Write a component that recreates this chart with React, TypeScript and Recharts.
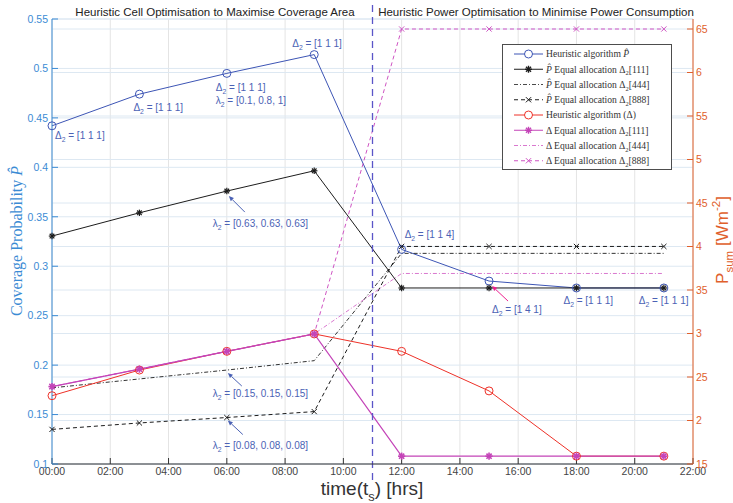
import React from 'react';
import {
  LineChart,
  Line,
  XAxis,
  YAxis,
  CartesianGrid,
  ReferenceLine,
  ReferenceDot,
  Legend,
} from 'recharts';

// Sample times (hours of day)
const hours = [0, 3, 6, 9, 12, 15, 18, 21];

// Coverage probability series (left axis)
const heuristicP = [0.442, 0.474, 0.495, 0.514, 0.317, 0.285, 0.278, 0.278];
const equalP111 = [0.3305, 0.354, 0.376, 0.3965, 0.278, 0.278, 0.278, 0.278];
const equalP444 = [0.177, 0.186, 0.195, 0.2045, 0.313, 0.313, 0.313, 0.313];
const equalP888 = [0.135, 0.1415, 0.147, 0.153, 0.32, 0.32, 0.32, 0.32];

// Power consumption series (right axis)
const heuristicDelta = [22.85, 25.8, 27.95, 29.95, 27.95, 23.4, 15.9, 15.9];
const equalD111 = [23.9, 25.9, 27.95, 29.95, 15.9, 15.9, 15.9, 15.9];
const equalD444 = [23.9, 25.9, 27.95, 29.95, 36.9, 36.9, 36.9, 36.9];
const equalD888 = [23.9, 25.9, 27.95, 29.95, 65, 65, 65, 65];

// Axis ticks
const timeTicks = [0, 2, 4, 6, 8, 10, 12, 14, 16, 18, 20, 22];
const coverageTicks = [0.1, 0.15, 0.2, 0.25, 0.3, 0.35, 0.4, 0.45, 0.5, 0.55];
const powerTicks = [15, 20, 25, 30, 35, 40, 45, 50, 55, 60, 65];
const powerTickLabels = ['15', '2', '25', '3', '35', '4', '45', '5', '55', '6', '65'];

const phaseSplit = 11;

const data = hours.map((t, i) => ({
  t,
  hp: heuristicP[i],
  p111: equalP111[i],
  p444: equalP444[i],
  p888: equalP888[i],
  hd: heuristicDelta[i],
  d111: equalD111[i],
  d444: equalD444[i],
  d888: equalD888[i],
}));

const C = {
  blue: '#3d55b5',
  black: '#1c1c1c',
  red: '#ee3128',
  magenta: '#c444b8',
  magentaLight: '#cf55c3',
  note: '#4b62b5',
  leftAxis: '#3b8bd4',
  rightAxis: '#e0602c',
  grid: '#dde8f2',
  vgrid: '#e4e4e4',
};

type Piece = { t: string; sub?: boolean; sup?: boolean; italic?: boolean };

function tspans(pieces: Piece[], size: number) {
  let shift = 0;
  return pieces.map((p, i) => {
    const target = p.sub ? size * 0.3 : p.sup ? -size * 0.45 : 0;
    const dy = target - shift;
    shift = target;
    return (
      <tspan
        key={i}
        dy={dy}
        fontSize={p.sub || p.sup ? size * 0.68 : size}
        fontStyle={p.italic ? 'italic' : undefined}
      >
        {p.t}
      </tspan>
    );
  });
}

const delta = (rest: string): Piece[] => [{ t: 'Δ' }, { t: '2', sub: true }, { t: rest }];
const lambda = (rest: string): Piece[] => [{ t: 'λ' }, { t: '2', sub: true }, { t: rest }];

// Marker shapes
const openCircle = (color: string) => (props: any) => {
  const { cx, cy, index } = props;
  if (cx == null || cy == null) return <g key={index} />;
  return <circle key={index} cx={cx} cy={cy} r={4} fill="none" stroke={color} strokeWidth={1} />;
};

const starAt = (cx: number, cy: number, color: string, s: number, w: number) => {
  const d = s * 0.72;
  return (
    <g stroke={color} strokeWidth={w}>
      <line x1={cx - s} y1={cy} x2={cx + s} y2={cy} />
      <line x1={cx} y1={cy - s} x2={cx} y2={cy + s} />
      <line x1={cx - d} y1={cy - d} x2={cx + d} y2={cy + d} />
      <line x1={cx - d} y1={cy + d} x2={cx + d} y2={cy - d} />
    </g>
  );
};

const star = (color: string, s: number, w: number) => (props: any) => {
  const { cx, cy, index } = props;
  if (cx == null || cy == null) return <g key={index} />;
  return <g key={index}>{starAt(cx, cy, color, s, w)}</g>;
};

const crossAt = (cx: number, cy: number, color: string, s: number) => (
  <g stroke={color} strokeWidth={1}>
    <line x1={cx - s} y1={cy - s} x2={cx + s} y2={cy + s} />
    <line x1={cx - s} y1={cy + s} x2={cx + s} y2={cy - s} />
  </g>
);

const cross = (color: string) => (props: any) => {
  const { cx, cy, index } = props;
  if (cx == null || cy == null) return <g key={index} />;
  return <g key={index}>{crossAt(cx, cy, color, 2.6)}</g>;
};

// Text notes anchored to data points (dx/dy are pixel offsets from the point)
type Note = { x: number; y: number; dx: number; dy: number; lines: Piece[][] };
const notes: Note[] = [
  { x: 0, y: heuristicP[0], dx: 3, dy: 13, lines: [delta(' = [1 1 1]')] },
  { x: 3, y: heuristicP[1], dx: -6, dy: 17, lines: [delta(' = [1 1 1]')] },
  { x: 6, y: heuristicP[2], dx: -11, dy: 18, lines: [delta(' = [1 1 1]'), lambda(' = [0.1, 0.8, 1]')] },
  { x: 9, y: heuristicP[3], dx: -22, dy: -8, lines: [delta(' = [1 1 1]')] },
  { x: 6, y: equalP111[2], dx: -14, dy: 36, lines: [lambda(' = [0.63, 0.63, 0.63]')] },
  { x: 6, y: equalP444[2], dx: -14, dy: 27, lines: [lambda(' = [0.15, 0.15, 0.15]')] },
  { x: 6, y: equalP888[2], dx: -14, dy: 31, lines: [lambda(' = [0.08, 0.08, 0.08]')] },
  { x: 12, y: heuristicP[4], dx: 3, dy: -11, lines: [delta(' = [1 1 4]')] },
  { x: 15, y: heuristicP[5], dx: 3, dy: 32, lines: [delta(' = [1 4 1]')] },
  { x: 18, y: heuristicP[6], dx: -13, dy: 16, lines: [delta(' = [1 1 1]')] },
  { x: 21, y: heuristicP[7], dx: -25, dy: 16, lines: [delta(' = [1 1 1]')] },
];

// Arrows pointing at data points (tail/head offsets in pixels from the point)
type Arrow = { x: number; y: number; tail: [number, number]; head: [number, number]; color: string };
const arrows: Arrow[] = [
  { x: 6, y: equalP111[2], tail: [18, 21], head: [2, 5], color: C.note },
  { x: 6, y: equalP444[2], tail: [15, 16], head: [1, 3], color: C.note },
  { x: 6, y: equalP888[2], tail: [16, 17], head: [1, 3], color: C.note },
  { x: 15, y: heuristicP[5], tail: [19, 20], head: [3, 5], color: '#ee1f8f' },
];

const noteShape = (n: Note) => (props: any) => {
  const { cx, cy } = props;
  if (cx == null || cy == null) return <g />;
  return (
    <g>
      {n.lines.map((ln, i) => (
        <text
          key={i}
          x={cx + n.dx}
          y={cy + n.dy + i * 13}
          fill={C.note}
          fontSize={10}
          fontFamily="'Liberation Sans', Arial, sans-serif"
        >
          {tspans(ln, 10)}
        </text>
      ))}
    </g>
  );
};

const arrowShape = (a: Arrow) => (props: any) => {
  const { cx, cy } = props;
  if (cx == null || cy == null) return <g />;
  const x1 = cx + a.tail[0];
  const y1 = cy + a.tail[1];
  const x2 = cx + a.head[0];
  const y2 = cy + a.head[1];
  const ang = Math.atan2(y2 - y1, x2 - x1);
  const L = 5;
  const W = 2.2;
  const bx = x2 - L * Math.cos(ang);
  const by = y2 - L * Math.sin(ang);
  const px = -Math.sin(ang) * W;
  const py = Math.cos(ang) * W;
  return (
    <g>
      <line x1={x1} y1={y1} x2={bx} y2={by} stroke={a.color} strokeWidth={1} />
      <polygon points={`${x2},${y2} ${bx + px},${by + py} ${bx - px},${by - py}`} fill={a.color} />
    </g>
  );
};

// Legend
type LegendItem = { pieces: Piece[]; color: string; dash?: string; marker?: 'circle' | 'star' | 'cross'; width?: number };
const Phat: Piece = { t: 'P\u0302', italic: true };
const legendItems: LegendItem[] = [
  { pieces: [{ t: 'Heuristic algorithm ' }, Phat], color: C.blue, marker: 'circle' },
  { pieces: [Phat, { t: ' Equal allocation Δ' }, { t: '2', sub: true }, { t: '[111]' }], color: C.black, marker: 'star' },
  { pieces: [Phat, { t: ' Equal allocation Δ' }, { t: '2', sub: true }, { t: '[444]' }], color: C.black, dash: '4 2 1 2', width: 0.8 },
  { pieces: [Phat, { t: ' Equal allocation Δ' }, { t: '2', sub: true }, { t: '[888]' }], color: C.black, dash: '4 3', marker: 'cross' },
  { pieces: [{ t: 'Heuristic algorithm (Δ)' }], color: C.red, marker: 'circle' },
  { pieces: [{ t: 'Δ Equal allocation Δ' }, { t: '2', sub: true }, { t: '[111]' }], color: C.magenta, marker: 'star' },
  { pieces: [{ t: 'Δ Equal allocation Δ' }, { t: '2', sub: true }, { t: '[444]' }], color: C.magentaLight, dash: '4 2 1 2', width: 0.8 },
  { pieces: [{ t: 'Δ Equal allocation Δ' }, { t: '2', sub: true }, { t: '[888]' }], color: C.magentaLight, dash: '4 3', marker: 'cross' },
];

const LegendBox = () => {
  const w = 170;
  const h = 126;
  return (
    <svg width={w} height={h} style={{ display: 'block' }}>
      <rect x={0.5} y={0.5} width={w - 1} height={h - 1} fill="#fff" stroke="#4d4d4d" strokeWidth={1} />
      {legendItems.map((it, i) => {
        const y = 10 + i * 15.25;
        const mx = 26.5;
        return (
          <g key={i}>
            <line x1={12} y1={y} x2={41} y2={y} stroke={it.color} strokeWidth={it.width ?? 1} strokeDasharray={it.dash} />
            {it.marker === 'circle' && <circle cx={mx} cy={y} r={4} fill="#fff" stroke={it.color} />}
            {it.marker === 'star' && starAt(mx, y, it.color, 3.5, 1.4)}
            {it.marker === 'cross' && <g>{crossAt(mx, y, it.color, 2.6)}</g>}
            <text
              x={44}
              y={y + 3.3}
              fontSize={9.6}
              fill="#333"
              fontFamily="'Liberation Serif', 'DejaVu Serif', serif"
            >
              {tspans(it.pieces, 9.6)}
            </text>
          </g>
        );
      })}
    </svg>
  );
};

const sans = "'Liberation Sans', Arial, sans-serif";

const LeftLabel = () => (
  <text
    x={22}
    y={241}
    transform="rotate(-90, 22, 241)"
    textAnchor="middle"
    fill={C.leftAxis}
    fontSize={16}
    fontFamily="'Liberation Serif', 'DejaVu Serif', serif"
  >
    <tspan>Coverage Probability </tspan>
    <tspan fontStyle="italic">{'P\u0302'}</tspan>
  </text>
);

const RightLabel = () => (
  <text
    x={728}
    y={240}
    transform="rotate(-90, 728, 240)"
    textAnchor="middle"
    fill={C.rightAxis}
    fontSize={17}
    fontFamily={sans}
  >
    {tspans([{ t: 'P' }, { t: 'sum', sub: true }, { t: ' [Wm' }, { t: '-2', sup: true }, { t: ']' }], 17)}
  </text>
);

const BottomLabel = () => (
  <text x={372} y={495} textAnchor="middle" fill="#333" fontSize={19} fontFamily={sans}>
    {tspans([{ t: 'time(t' }, { t: 's', sub: true }, { t: ') [hrs]' }], 19)}
  </text>
);

const fmtTime = (h: number) => `${String(h).padStart(2, '0')}:00`;
const fmtCoverage = (v: number) => String(Number(v.toFixed(2)));
const fmtPower = (v: number) => {
  const i = powerTicks.indexOf(v);
  return i >= 0 ? powerTickLabels[i] : String(v);
};

const titleStyle: React.CSSProperties = {
  position: 'absolute',
  top: 4,
  width: 400,
  textAlign: 'center',
  fontFamily: sans,
  fontSize: 11.5,
  lineHeight: '16px',
  color: '#222',
  whiteSpace: 'nowrap',
  zIndex: 2,
};

export default function App() {
  return (
    <div style={{ position: 'absolute', left: 0, top: 0, width: 733, height: 503, background: '#fff' }}>
      <LineChart width={733} height={503} data={data} margin={{ top: 19, right: 0, bottom: 0, left: 0 }}>
        <CartesianGrid xAxisId={0} yAxisId="left" horizontal={false} vertical stroke={C.vgrid} />
        <CartesianGrid xAxisId={0} yAxisId="left" horizontal vertical={false} stroke={C.grid} />
        <CartesianGrid xAxisId={0} yAxisId="right" horizontal vertical={false} stroke={C.grid} />
        <XAxis
          xAxisId={0}
          dataKey="t"
          type="number"
          domain={[0, 22]}
          ticks={timeTicks}
          interval={0}
          tickFormatter={fmtTime}
          height={39}
          tickSize={-6}
          tickMargin={10}
          stroke="#333"
          tick={{ fill: '#444', fontSize: 10.5, fontFamily: sans }}
          label={{ content: () => <BottomLabel /> }}
        />
        <XAxis
          xAxisId="top"
          orientation="top"
          type="number"
          domain={[0, 22]}
          ticks={timeTicks}
          interval={0}
          height={0}
          tickSize={-6}
          stroke="#333"
          tick={() => <g />}
        />
        <YAxis
          yAxisId="left"
          orientation="left"
          type="number"
          domain={[0.1, 0.55]}
          ticks={coverageTicks}
          interval={0}
          width={52}
          tickSize={-6}
          tickMargin={10}
          tickFormatter={fmtCoverage}
          stroke={C.leftAxis}
          tick={{ fill: C.leftAxis, fontSize: 10.5, fontFamily: sans }}
          label={{ content: () => <LeftLabel /> }}
        />
        <YAxis
          yAxisId="right"
          orientation="right"
          type="number"
          domain={[15, 66.15]}
          ticks={powerTicks}
          interval={0}
          width={40}
          tickSize={-6}
          tickMargin={9}
          tickFormatter={fmtPower}
          stroke={C.rightAxis}
          tick={{ fill: C.rightAxis, fontSize: 10.5, fontFamily: sans }}
          label={{ content: () => <RightLabel /> }}
        />

        <Line yAxisId="left" dataKey="hp" stroke={C.blue} strokeWidth={1} dot={openCircle(C.blue)} isAnimationActive={false} />
        <Line yAxisId="left" dataKey="p111" stroke={C.black} strokeWidth={1} dot={star(C.black, 3.2, 1.2)} isAnimationActive={false} />
        <Line yAxisId="left" dataKey="p444" stroke={C.black} strokeWidth={0.9} strokeDasharray="4 2 1 2" dot={false} isAnimationActive={false} />
        <Line yAxisId="left" dataKey="p888" stroke={C.black} strokeWidth={1} strokeDasharray="4 3" dot={cross(C.black)} isAnimationActive={false} />
        <Line yAxisId="right" dataKey="hd" stroke={C.red} strokeWidth={1} dot={openCircle(C.red)} isAnimationActive={false} />
        <Line yAxisId="right" dataKey="d888" stroke={C.magentaLight} strokeWidth={1} strokeDasharray="4 3" dot={cross(C.magentaLight)} isAnimationActive={false} />
        <Line yAxisId="right" dataKey="d444" stroke={C.magentaLight} strokeWidth={0.8} strokeDasharray="4 2 1 2" dot={false} isAnimationActive={false} />
        <Line yAxisId="right" dataKey="d111" stroke={C.magenta} strokeWidth={1.2} dot={star(C.magenta, 3.6, 1.6)} isAnimationActive={false} />

        <ReferenceLine
          yAxisId="left"
          ifOverflow="visible"
          segment={[
            { x: phaseSplit, y: 0.0838 },
            { x: phaseSplit, y: 0.5692 },
          ]}
          stroke="#5a55c8"
          strokeWidth={1.3}
          strokeDasharray="7 5"
        />

        {arrows.map((a, i) => (
          <ReferenceDot key={`a${i}`} yAxisId="left" x={a.x} y={a.y} r={1} shape={arrowShape(a)} />
        ))}
        {notes.map((n, i) => (
          <ReferenceDot key={`n${i}`} yAxisId="left" x={n.x} y={n.y} r={1} shape={noteShape(n)} />
        ))}

        <Legend
          layout="vertical"
          align="center"
          verticalAlign="middle"
          content={() => <LegendBox />}
          wrapperStyle={{ position: 'absolute', left: 502, top: 44, width: 170, height: 126 }}
        />
      </LineChart>
      <div style={{ ...titleStyle, left: 215 - 200 }}>Heuristic Cell Optimisation to Maximise Coverage Area</div>
      <div style={{ ...titleStyle, left: 536 - 200 }}>Heuristic Power Optimisation to Minimise Power Consumption</div>
    </div>
  );
}
